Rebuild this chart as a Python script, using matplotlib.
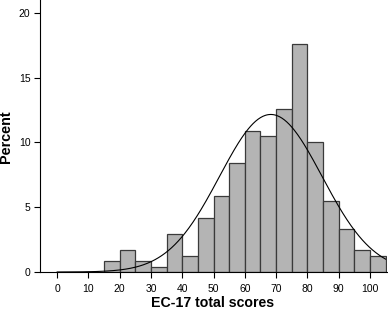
import numpy as np
import matplotlib.pyplot as plt

# bin left edges (width 5) and percent per bin
bin_left = [15, 20, 25, 30, 35, 40, 45, 50, 55, 60, 65, 70, 75, 80, 85, 90, 95, 100]
percent = [0.83, 1.70, 0.83, 0.41, 2.93, 1.26, 4.19, 5.87, 8.39, 10.91,
           10.50, 12.61, 17.63, 10.06, 5.46, 3.35, 1.70, 1.26]
bin_width = 5

# fitted normal curve
mean_score = 68.3
sd_score = 16.4

xticks = [0, 10, 20, 30, 40, 50, 60, 70, 80, 90, 100]
yticks = [0, 5, 10, 15, 20]

plt.rcParams['font.family'] = ['Liberation Sans', 'DejaVu Sans']

fig = plt.figure(figsize=(3.88, 3.11), dpi=100)
ax = fig.add_axes([0.103, 0.1254, 0.894, 0.8746])

ax.bar(bin_left, percent, width=bin_width, align='edge',
       color='#b4b4b4', edgecolor='#3a3a3a', linewidth=0.9)

xs = np.linspace(0, 105, 400)
ys = 100 * bin_width / (sd_score * np.sqrt(2 * np.pi)) * np.exp(-(xs - mean_score) ** 2 / (2 * sd_score ** 2))
ax.plot(xs, ys, color='black', linewidth=0.8)

ax.set_xlim(-5.5, 105.4)
ax.set_ylim(0, 21)
ax.set_xticks(xticks)
ax.set_yticks(yticks)
ax.spines['top'].set_visible(False)
ax.spines['right'].set_visible(False)
ax.tick_params(axis='both', labelsize=7.5, length=4.3, width=0.8)
ax.tick_params(axis='x', pad=4.5)
ax.tick_params(axis='y', pad=2.5)

# axis titles placed in figure coords
fig.text(213 / 388, 0.012, 'EC-17 total scores', fontsize=10.2, fontweight='bold',
         ha='center', va='baseline')
fig.text(6.5 / 388, 1 - 137 / 311, 'Percent', fontsize=10.4, fontweight='bold',
         rotation=90, ha='center', va='center')

fig.savefig('out.png', dpi=100)
